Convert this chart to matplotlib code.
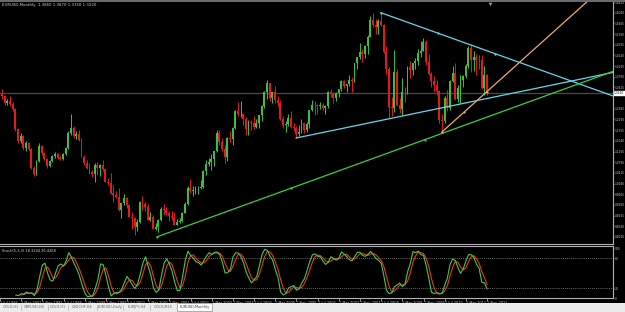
import numpy as np
import pandas as pd
import matplotlib
matplotlib.use("Agg")
import matplotlib.pyplot as plt
from matplotlib.patches import Rectangle

# EURUSD monthly, Jul 1996 .. Nov 2011 (one value per month)
first_open = 1.3300
highs = [
    # 1996 Jul-Dec, 1997, 1998
    1.3400, 1.3350, 1.3150, 1.3000, 1.3100, 1.2900,
    1.2700, 1.2000, 1.1800, 1.1750, 1.1550, 1.1500, 1.1300, 1.0650, 1.0870, 1.1480, 1.1400, 1.1150,
    1.0950, 1.0870, 1.1050, 1.1150, 1.1130, 1.1000, 1.1120, 1.1330, 1.1870, 1.2480, 1.2050, 1.1900,
    # 1999
    1.1905, 1.1640, 1.1030, 1.0860, 1.0760, 1.0520, 1.0760, 1.0800, 1.0710, 1.0880, 1.0570, 1.0250,
    # 2000
    1.0410, 0.9980, 0.9780, 0.9890, 0.9360, 0.9660, 0.9560, 0.9320, 0.9050, 0.8870, 0.8790, 0.9440,
    # 2001
    0.9590, 0.9400, 0.9320, 0.9030, 0.8950, 0.8660, 0.8800, 0.9220, 0.9320, 0.9230, 0.9070, 0.9060,
    # 2002
    0.9040, 0.8780, 0.8840, 0.9040, 0.9380, 0.9950, 1.0200, 0.9950, 0.9960, 0.9940, 1.0150, 1.0500,
    # 2003
    1.0880, 1.0930, 1.1080, 1.1190, 1.1930, 1.1930, 1.1640, 1.1390, 1.1660, 1.1880, 1.2020, 1.2640,
    # 2004
    1.2900, 1.2930, 1.2500, 1.2390, 1.2280, 1.2270, 1.2420, 1.2320, 1.2440, 1.2810, 1.3300, 1.3670,
    # 2005
    1.3580, 1.3270, 1.3480, 1.3100, 1.2990, 1.2400, 1.2250, 1.2480, 1.2590, 1.2170, 1.2050, 1.2080,
    # 2006
    1.2320, 1.2160, 1.2200, 1.2640, 1.2980, 1.2940, 1.2830, 1.2910, 1.2860, 1.2790, 1.3280, 1.3370,
    # 2007
    1.3250, 1.3250, 1.3370, 1.3680, 1.3680, 1.3540, 1.3850, 1.3780, 1.4280, 1.4500, 1.4970, 1.4760,
    # 2008
    1.4900, 1.5240, 1.5910, 1.6020, 1.5820, 1.5810, 1.6038, 1.5630, 1.4870, 1.4150, 1.3090, 1.4720,
    # 2009
    1.4060, 1.3060, 1.3740, 1.3440, 1.4170, 1.4340, 1.4290, 1.4450, 1.4770, 1.5060, 1.5140, 1.5080,
    # 2010
    1.4580, 1.3970, 1.3820, 1.3690, 1.3340, 1.2490, 1.3110, 1.3330, 1.3680, 1.4160, 1.4280, 1.3500,
    # 2011 Jan-Nov
    1.3860, 1.3860, 1.4250, 1.4880, 1.4940, 1.4700, 1.4580, 1.4550, 1.4550, 1.4170, 1.3870,
]
lows = [
    1.3050, 1.3000, 1.2800, 1.2800, 1.2780, 1.2600,
    1.1900, 1.1450, 1.1450, 1.1230, 1.1200, 1.1200, 1.0550, 1.0300, 1.0350, 1.0780, 1.1050, 1.0850,
    1.0600, 1.0620, 1.0800, 1.0950, 1.0900, 1.0850, 1.0870, 1.1050, 1.1250, 1.1750, 1.1650, 1.1600,
    1.1550, 1.0960, 1.0700, 1.0560, 1.0390, 1.0260, 1.0110, 1.0330, 1.0320, 1.0470, 1.0080, 1.0000,
    0.9680, 0.9410, 0.9520, 0.9060, 0.8840, 0.9270, 0.9170, 0.8850, 0.8440, 0.8228, 0.8380, 0.8650,
    0.9120, 0.9080, 0.8750, 0.8730, 0.8430, 0.8420, 0.8350, 0.8730, 0.8950, 0.8940, 0.8740, 0.8760,
    0.8580, 0.8570, 0.8650, 0.8700, 0.9000, 0.9290, 0.9720, 0.9620, 0.9680, 0.9690, 0.9860, 0.9890,
    1.0340, 1.0650, 1.0500, 1.0640, 1.1160, 1.1410, 1.1180, 1.0770, 1.0840, 1.1500, 1.1400, 1.1960,
    1.2400, 1.2380, 1.2080, 1.1760, 1.1760, 1.1910, 1.1960, 1.2000, 1.2000, 1.2230, 1.2700, 1.3010,
    1.2940, 1.2860, 1.2880, 1.2760, 1.2280, 1.1990, 1.1860, 1.2070, 1.1990, 1.1870, 1.1640, 1.1700,
    1.1800, 1.1830, 1.1860, 1.2000, 1.2600, 1.2460, 1.2480, 1.2660, 1.2630, 1.2480, 1.2690, 1.3090,
    1.2870, 1.2950, 1.3090, 1.3300, 1.3400, 1.3270, 1.3480, 1.3260, 1.3590, 1.4080, 1.4430, 1.4320,
    1.4450, 1.4600, 1.5170, 1.5520, 1.5280, 1.5300, 1.5580, 1.4610, 1.3880, 1.2330, 1.2420, 1.2540,
    1.2750, 1.2510, 1.2460, 1.2890, 1.3170, 1.3750, 1.3850, 1.4050, 1.4200, 1.4480, 1.4680, 1.4220,
    1.3860, 1.3440, 1.3270, 1.3150, 1.2150, 1.1876, 1.2150, 1.2590, 1.2640, 1.3610, 1.2970, 1.2920,
    1.2870, 1.3440, 1.3730, 1.4100, 1.3970, 1.4000, 1.3840, 1.4050, 1.3360, 1.3140, 1.3150,
]
closes = [
    1.3200, 1.3100, 1.2860, 1.2950, 1.2830, 1.2650,
    1.1950, 1.1530, 1.1700, 1.1290, 1.1460, 1.1250, 1.0590, 1.0380, 1.0830, 1.1360, 1.1110, 1.0900,
    1.0660, 1.0830, 1.1010, 1.1080, 1.0940, 1.0910, 1.1080, 1.1290, 1.1810, 1.1990, 1.1710, 1.1790,
    1.1580, 1.0990, 1.0770, 1.0580, 1.0440, 1.0360, 1.0690, 1.0570, 1.0680, 1.0550, 1.0100, 1.0070,
    0.9710, 0.9640, 0.9570, 0.9120, 0.9350, 0.9520, 0.9270, 0.8880, 0.8830, 0.8500, 0.8700, 0.9390,
    0.9340, 0.9200, 0.8770, 0.8880, 0.8460, 0.8500, 0.8760, 0.9130, 0.9110, 0.9010, 0.8900, 0.8880,
    0.8600, 0.8690, 0.8720, 0.9020, 0.9330, 0.9870, 0.9780, 0.9800, 0.9870, 0.9880, 0.9930, 1.0490,
    1.0730, 1.0780, 1.0910, 1.1170, 1.1800, 1.1490, 1.1240, 1.0990, 1.1650, 1.1600, 1.1990, 1.2590,
    1.2470, 1.2480, 1.2310, 1.1960, 1.2200, 1.2180, 1.2020, 1.2180, 1.2430, 1.2770, 1.3270, 1.3560,
    1.3040, 1.3250, 1.2960, 1.2860, 1.2300, 1.2100, 1.2130, 1.2340, 1.2020, 1.1990, 1.1790, 1.1840,
    1.2150, 1.1920, 1.2120, 1.2620, 1.2810, 1.2790, 1.2770, 1.2810, 1.2680, 1.2760, 1.3250, 1.3200,
    1.3030, 1.3230, 1.3350, 1.3650, 1.3450, 1.3530, 1.3690, 1.3630, 1.4260, 1.4490, 1.4660, 1.4590,
    1.4860, 1.5190, 1.5790, 1.5600, 1.5550, 1.5750, 1.5610, 1.4670, 1.4080, 1.2720, 1.2700, 1.3970,
    1.2800, 1.2670, 1.3250, 1.3240, 1.4150, 1.4040, 1.4260, 1.4340, 1.4640, 1.4710, 1.5000, 1.4320,
    1.3870, 1.3630, 1.3510, 1.3290, 1.2270, 1.2230, 1.3050, 1.2680, 1.3630, 1.3930, 1.3000, 1.3380,
    1.3690, 1.3810, 1.4170, 1.4810, 1.4390, 1.4500, 1.4390, 1.4380, 1.3390, 1.3860, 1.3220,
]

time_labels = ["1 Jul 1996", "1 Mar 1997", "1 Nov 1997", "1 Jul 1998", "1 Mar 1999", "1 Nov 1999",
               "1 Jul 2000", "1 Mar 2001", "1 Nov 2001", "1 Jul 2002", "1 Mar 2003", "1 Nov 2003",
               "1 Jul 2004", "1 Mar 2005", "1 Nov 2005", "1 Jul 2006", "1 Mar 2007", "1 Nov 2007",
               "1 Jul 2008", "1 Mar 2009", "1 Nov 2009", "1 Jul 2010", "1 Mar 2011", "1 Nov 2011"]
time_label_bars = [0, 8, 16, 24, 32, 40, 48, 56, 64, 72, 80, 88, 96, 104, 112, 120, 128, 136,
                   144, 152, 160, 168, 176, 184]

price_ticks = [1.6415, 1.6040, 1.5665, 1.5290, 1.4915, 1.4540, 1.4165, 1.3790, 1.3415,
               1.2665, 1.2290, 1.1915, 1.1540, 1.1165, 1.0790, 1.0415, 1.0040, 0.9665,
               0.9290, 0.8915, 0.8540, 0.8165]

# trend lines: (bar index, price) anchors
upper_line = [(144, 1.6038), (187, 1.4603)]
lower_line = [(112, 1.1640), (147, 1.2314)]
green_line = [(59.5, 0.8170), (160.5, 1.1580)]
orange_line = [(167, 1.1850), (184, 1.3270)]

tabs = ["GOLD,H1", "GBPUSD,H4", "GOLD,H1", "USDCHF,H4", "EURUSD,Daily", "EURJPY,H4", "GOLD,M15",
        "EURUSD,Monthly"]
tab_edges = [1, 21, 48, 68, 97, 123, 150, 177, 212]

header = "EURUSD,Monthly  1.3860 1.3870 1.3150 1.3220"
stoch_header = "Stoch(5,3,3) 18.3244 26.4268"

W, H = 625, 312
fig = plt.figure(figsize=(6.25, 3.12), dpi=100, facecolor="black")

def fy(px):
    return 1 - px / H

high = np.array(highs)
low = np.array(lows)
close = np.array(closes)
opn = np.concatenate([[first_open], close[:-1]])
bars = np.arange(len(close))

# pixel x = -0.65 + 2.65 * bar
xlim = ((0 + 0.65) / 2.65, (613 + 0.65) / 2.65)
ppx = 0.0035  # price per pixel
main_top, main_bot = 2, 244
ylim_main = (1.6038 - (main_bot - 12) * ppx, 1.6038 + (12 - main_top) * ppx)

ax = fig.add_axes([0, fy(main_bot), 613 / W, (main_bot - main_top) / H])
ax.set_facecolor("black")
ax.set_xlim(*xlim)
ax.set_ylim(*ylim_main)

bull = close >= opn
up_c, dn_c = "#3cc03c", "#e81818"
cols = np.where(bull, up_c, dn_c)
ax.vlines(bars, low, high, colors=cols, linewidth=0.7, zorder=3)
body_lo = np.minimum(opn, close)
body_h = np.maximum(np.abs(close - opn), 0.0015)
ax.bar(bars, body_h, bottom=body_lo, width=0.7, color=cols, linewidth=0, zorder=3)

# current price line
ax.axhline(close[-1], color="#4a4a4a", linewidth=0.9, zorder=1)

def ray(a, color, marks=True):
    (x0, y0), (x1, y1) = a
    slope = (y1 - y0) / (x1 - x0)
    xe = xlim[1] + 5
    ax.plot([x0, xe], [y0, y0 + slope * (xe - x0)], color=color, linewidth=0.9, zorder=4)
    if marks:
        xm = (x0 + x1) / 2
        ax.plot([x0, xm, x1], [y0, y0 + slope * (xm - x0), y1], "o", color=color,
                markersize=1.6, markeredgewidth=0, zorder=5)

ray(upper_line, "#66d6ea")
ray(lower_line, "#66d6ea", marks=False)
ray(green_line, "#3fcc3f")
ray(orange_line, "#f0a868")

# chart shift marker
ax.plot([bars[-1] + 1.2], [ylim_main[1] - 0.004], marker="v", color="#a0a0a0", markersize=2.5,
        markeredgewidth=0, clip_on=False, zorder=6)

ax.set_xticks([])
ax.yaxis.tick_right()
ax.set_yticks(price_ticks)
ax.set_yticklabels([f"{v:.4f}" for v in price_ticks])
ax.tick_params(axis="y", colors="#c8c8c8", labelsize=2.1, length=1, width=0.5, pad=0.5)
for s in ["top", "left"]:
    ax.spines[s].set_visible(False)
for s in ["right", "bottom"]:
    ax.spines[s].set_color("#b0b0b0")
    ax.spines[s].set_linewidth(0.8)

ax.text(1.0 + 1 / 613, close[-1], f"{close[-1]:.4f}", transform=ax.get_yaxis_transform(),
        fontsize=2.1, color="black", va="center", ha="left",
        bbox=dict(boxstyle="square,pad=0.12", facecolor="white", edgecolor="white"))

fig.text(2 / W, fy(5), header, fontsize=2.8, color="#d0d0d0", va="center", ha="left")

# stochastic 5,3,3
hh = pd.Series(high).rolling(5).max()
ll = pd.Series(low).rolling(5).min()
k = (pd.Series(close) - ll).rolling(3).sum() / (hh - ll).rolling(3).sum() * 100
d = k.rolling(3).mean()

st_top, st_bot = 246, 298
sx = fig.add_axes([0, fy(st_bot), 613 / W, (st_bot - st_top) / H])
sx.set_facecolor("black")
sx.set_xlim(*xlim)
sx.set_ylim(0, 104)
sx.axhline(80, color="#8a8a8a", linewidth=0.6, linestyle=(0, (1, 1.5)))
sx.axhline(20, color="#8a8a8a", linewidth=0.6, linestyle=(0, (1, 1.5)))
sx.plot(bars, d, color="#e83820", linewidth=0.8)
sx.plot(bars, k, color="#48c848", linewidth=0.8)
sx.yaxis.tick_right()
sx.set_yticks([100, 80, 20, 0])
sx.set_yticklabels(["100", "80", "20", "0"])
sx.tick_params(axis="y", colors="#c8c8c8", labelsize=2.1, length=1, width=0.5, pad=0.5)
sx.set_xticks(time_label_bars)
sx.set_xticklabels(time_labels, ha="left")
sx.tick_params(axis="x", colors="#c8c8c8", labelsize=2.5, length=2, width=0.5, pad=0.5)
for s in ["left"]:
    sx.spines[s].set_visible(False)
for s in ["right", "bottom", "top"]:
    sx.spines[s].set_color("#b0b0b0")
    sx.spines[s].set_linewidth(0.8)
sx.text(2 / 613, 0.9, stoch_header, transform=sx.transAxes, fontsize=2.6, color="#d0d0d0",
        va="center", ha="left")

# top border strip
fig.patches.append(Rectangle((0, fy(1.5)), 1, 1.5 / H, transform=fig.transFigure,
                             facecolor="#6a6a6a", edgecolor="none"))

# tab bar
tb = fig.add_axes([0, 0, 1, 9 / H])
tb.set_xlim(0, W)
tb.set_ylim(9, 0)
tb.axis("off")
tb.add_patch(Rectangle((0, 0), W, 9, facecolor="#ececec", edgecolor="none"))
for i, name in enumerate(tabs):
    x0, x1 = tab_edges[i], tab_edges[i + 1]
    sel = i == len(tabs) - 1
    if sel:
        tb.add_patch(Rectangle((x0, 0), x1 - x0, 8, facecolor="white", edgecolor="#909090",
                               linewidth=0.5))
    else:
        tb.plot([x1, x1], [2, 7], color="#b0b0b0", linewidth=0.5)
    tb.text((x0 + x1) / 2, 4.2, name, fontsize=2.5, color="#606060" if not sel else "#303030",
            ha="center", va="center")

fig.savefig("out.png", dpi=100, facecolor="black")
